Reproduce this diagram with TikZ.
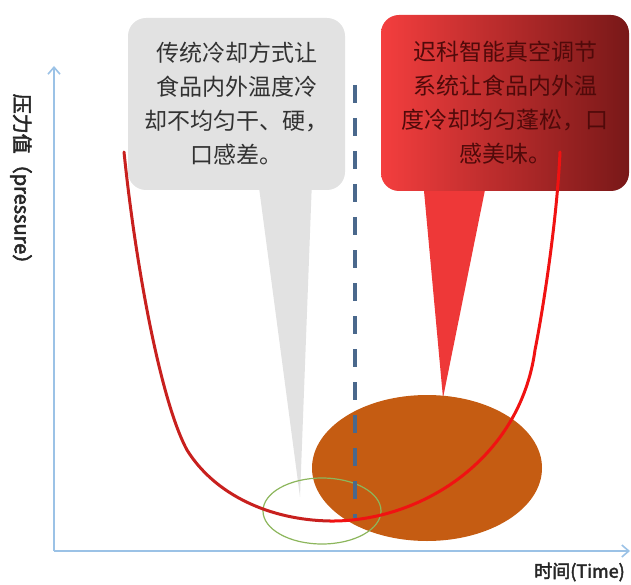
\documentclass[tikz,border=0pt]{standalone}
\usepackage{fontspec}
\newfontfamily\cjk[AutoFakeBold=2.5]{Noto Sans CJK SC}
\usetikzlibrary{arrows.meta,shapes.geometric}
\definecolor{axisblue}{RGB}{155,194,230}
\definecolor{boxgray}{RGB}{226,226,226}
\definecolor{redL}{RGB}{244,62,62}
\definecolor{redM}{RGB}{222,42,42}
\definecolor{redR}{RGB}{120,24,24}
\definecolor{tailred}{RGB}{238,56,56}
\definecolor{brown}{RGB}{197,92,18}
\definecolor{olive}{RGB}{140,182,92}
\definecolor{dashblue}{RGB}{74,104,140}
\definecolor{curveA}{RGB}{200,32,30}
\definecolor{curveB}{RGB}{240,18,18}
\definecolor{txtgray}{RGB}{50,50,50}
\definecolor{txtred}{RGB}{80,10,10}
\tikzset{
  axisline/.style={draw=axisblue, line width=1.6pt, -{Straight Barb[length=7pt,width=12pt]}},
  callout/.style={rounded corners=18pt, inner sep=0pt, align=center,
    font=\cjk\fontsize{23}{34}\selectfont},
  curveline/.style={line width=3pt, line cap=round},
  axislabel/.style={font=\cjk\bfseries\fontsize{20}{22}\selectfont, text=black!85, inner sep=0pt}
}
\begin{document}
\begin{tikzpicture}[x=1pt,y=-1pt]
\useasboundingbox (0,0) rectangle (631,585);
% axes
\coordinate (O) at (54,551);
\coordinate (ytop) at (54,66);
\coordinate (xend) at (630,551);
\draw[axisline] (O) -- (ytop);
\draw[axisline] (O) -- (xend);
\node[axislabel, rotate=-90] (ylab) at (21,184) {压力值（pressure）};
\node[axislabel, font=\cjk\bfseries\fontsize{18}{20}\selectfont, anchor=east] (xlab) at (625,572) {时间(Time)};
% gray callout
\fill[boxgray] (258,180) -- (300,497) -- (312,180) -- cycle;
\node[callout, fill=boxgray, minimum width=217pt, minimum height=172pt, text=txtgray]
  (gray) at (236.5,104) {传统冷却方式让\\食品内外温度冷\\却不均匀干、硬，\\口感差。};
% red callout
\fill[tailred] (423,180) -- (443,398) -- (487,180) -- cycle;
\node[callout, left color=redL, middle color=redM, right color=redR,
  minimum width=248pt, minimum height=176pt, text=txtred]
  (red) at (505,103) {迟科智能真空调节\\系统让食品内外温\\度冷却均匀蓬松，口\\感美味。};
% ellipses
\node[ellipse, fill=brown, minimum width=230pt, minimum height=146pt, inner sep=0pt] (brownell) at (427,468) {};
\node[ellipse, draw=olive, line width=1.2pt, minimum width=118pt, minimum height=66pt, inner sep=0pt] (greenell) at (322,511) {};
% dashed line
\coordinate (dtop) at (355,85);
\coordinate (dbot) at (355,518);
\draw[dashblue, line width=4.5pt, dash pattern=on 18pt off 15pt] (dtop) -- (dbot);
% curve
\coordinate (c0) at (124,152);
\coordinate (c1) at (187,450);
\coordinate (c2) at (330,521);
\coordinate (c3) at (535,350);
\coordinate (c4) at (560,152);
\draw[curveline, curveA] (c0) .. controls (135,260) and (160,400) .. (c1)
  .. controls (215,495) and (270,520) .. (c2);
\draw[curveline, curveB] (c2) .. controls (420,522) and (520,460) .. (c3)
  .. controls (543,310) and (557,220) .. (c4);
\end{tikzpicture}
\end{document}
